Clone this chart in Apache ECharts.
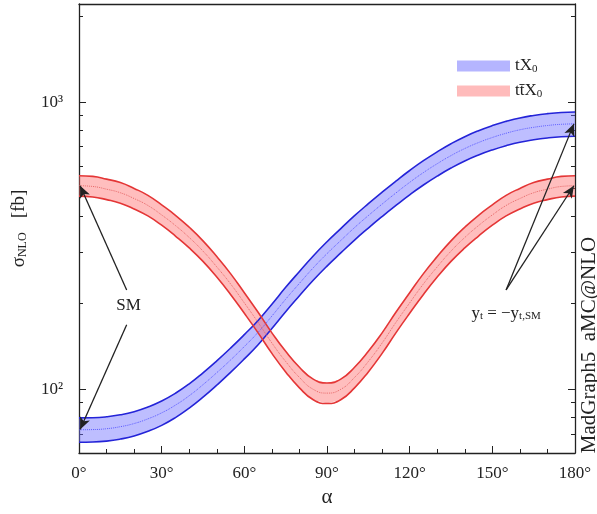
<!DOCTYPE html>
<html>
<head>
<meta charset="utf-8">
<script src="https://cdn.jsdelivr.net/npm/echarts@6/dist/echarts.min.js"></script>
<style>
  html, body { margin: 0; padding: 0; background: #fff; }
  #chart { width: 597px; height: 514px; }
</style>
</head>
<body>
<div id="chart"></div>
<script>
// mixing angle alpha (degrees)
const alpha = [0, 5, 10, 15, 20, 25, 30, 35, 40, 45, 50, 55, 60, 65, 70, 75, 80, 85, 90,
  95, 100, 105, 110, 115, 120, 125, 130, 135, 140, 145, 150, 155, 160, 165, 170, 175, 180]

// tX0 cross section [fb]: central value, upper and lower edge of the band
const tX0Mid = [72.3, 72.4, 72.9, 74.1, 76, 78.9, 82.8, 88.1, 95, 103.8, 114.3, 126.5, 141, 158, 180, 206, 234, 265, 297,
  330, 366, 403, 442, 483, 526, 569, 611, 652, 690, 724, 754, 780, 802, 818, 830, 838, 841]
const tX0Up = [79.5, 79.6, 80.2, 81.5, 83.6, 86.8, 91.1, 96.9, 104.5, 114.2, 125.7, 139.2, 155.1, 173.8, 198, 226.6, 257.4, 291.5, 326.7,
  363, 402.6, 443.3, 486.2, 531.3, 578.6, 625.9, 672.1, 717.2, 759, 796.4, 829.4, 858, 882.2, 899.8, 913, 921.8, 925.1]
const tX0Low = [65.4, 65.5, 66, 67.1, 68.8, 71.4, 74.9, 79.7, 86, 93.9, 103.4, 114.5, 127.6, 143, 162.9, 186.4, 211.8, 239.8, 268.8,
  298.7, 331.2, 364.7, 400, 437.1, 476, 515, 553, 590, 624.5, 655.2, 682.4, 705.9, 725.8, 740.3, 751.2, 758.4, 761.1]

// ttX0 cross section [fb]
const ttX0Mid = [512, 509, 498, 484, 462, 437, 405, 372, 338, 303, 267, 233, 200, 171, 145, 125, 110, 100, 97,
  100, 110, 125, 145, 171, 200, 233, 267, 303, 338, 372, 405, 437, 462, 484, 498, 509, 512]
const ttX0Up = [555, 552, 540, 525, 501, 474, 439, 404, 367, 329, 290, 253, 217, 185.5, 157.3, 135.6, 119.4, 108.5, 105.2,
  108.5, 119.4, 135.6, 157.3, 185.5, 217, 253, 290, 329, 367, 404, 439, 474, 501, 525, 540, 552, 555]
const ttX0Low = [471, 468, 458, 445, 425, 402, 373, 342, 311, 279, 246, 214, 184, 157.3, 133.4, 115, 101.2, 92, 89.2,
  92, 101.2, 115, 133.4, 157.3, 184, 214, 246, 279, 311, 342, 373, 402, 425, 445, 458, 468, 471]

// axis ticks
const yMajor = [100, 1000]
const yMinor = [60, 70, 80, 90, 200, 300, 400, 500, 600, 700, 800, 900, 2000]
const yLabels = { 100: '10²', 1000: '10³' }

const FONT = 'Liberation Serif'
const BLUE = '#2424d8'
const RED = '#e43636'

const chart = echarts.init(document.getElementById('chart'))

const pair = ys => alpha.map((x, i) => [x, ys[i]])

const yAxisDef = (position, ticks, len, withLabels, showLine) => ({
  type: 'log',
  min: 60,
  max: 2200,
  position,
  axisLine: { show: showLine, lineStyle: { color: '#222', width: 1.3 } },
  axisTick: { show: true, inside: true, length: len, customValues: ticks, lineStyle: { color: '#222', width: 1 } },
  axisLabel: withLabels ? {
    show: true,
    customValues: yMajor,
    margin: 16,
    fontFamily: FONT,
    fontSize: 17,
    color: '#222',
    formatter: v => yLabels[Math.round(v)] || ''
  } : { show: false },
  splitLine: { show: false },
  minorTick: { show: false }
})

// filled band between the upper and lower edge
const bandFill = (name, up, low, fill) => ({
  name,
  type: 'custom',
  coordinateSystem: 'cartesian2d',
  data: [[0, 100]],
  clip: true,
  silent: true,
  z: 2,
  renderItem: (params, api) => {
    const top = alpha.map((a, i) => api.coord([a, up[i]]))
    const bottom = alpha.map((a, i) => api.coord([a, low[i]])).reverse()
    return { type: 'polygon', shape: { points: top.concat(bottom) }, style: { fill } }
  }
})

const edge = (ys, color) => ({
  type: 'line',
  data: pair(ys),
  smooth: true,
  symbol: 'none',
  silent: true,
  lineStyle: { color, width: 1.6 },
  z: 3
})

const mid = (ys, color) => ({
  type: 'line',
  data: pair(ys),
  smooth: true,
  symbol: 'none',
  silent: true,
  lineStyle: { color, width: 1, type: 'dotted' },
  z: 4
})

const arrowLines = {
  silent: true,
  symbol: ['none', 'arrow'],
  symbolSize: [8, 12],
  lineStyle: { color: '#222', width: 1.3, type: 'solid' },
  label: { show: false },
  data: [
    [{ coord: [17.3, 222] }, { coord: [0.4, 512] }],
    [{ coord: [17.3, 168] }, { coord: [0.4, 72.5] }],
    [{ coord: [155, 222] }, { coord: [179.6, 841] }],
    [{ coord: [155, 222] }, { coord: [179.6, 512] }]
  ]
}

const subRich = {
  a: { fontFamily: FONT, fontSize: 17, color: '#222' },
  s: { fontFamily: FONT, fontSize: 11, color: '#222', verticalAlign: 'bottom', lineHeight: 11, padding: [8, 0, 0, 0] }
}

const notes = {
  silent: true,
  symbol: 'circle',
  symbolSize: 0,
  label: {
    show: true,
    position: 'inside',
    color: '#222',
    fontFamily: FONT,
    fontSize: 17,
    formatter: p => p.name,
    rich: subRich
  },
  data: [
    { name: 'SM', coord: [18, 196] },
    { name: '{a|y}{s|t}{a| = −y}{s|t,SM}', coord: [155, 184] }
  ]
}

const tMid = mid(tX0Mid, '#5c5cff')
tMid.markLine = arrowLines
tMid.markPoint = notes

chart.setOption({
  animation: false,
  backgroundColor: '#fff',
  grid: { left: 77, right: 22, top: 4, bottom: 61 },
  legend: {
    orient: 'vertical',
    left: 452,
    top: 51,
    itemWidth: 53,
    itemHeight: 11,
    itemGap: 6,
    icon: 'rect',
    selectedMode: false,
    data: [
      { name: 'tX0', itemStyle: { color: 'rgba(120,120,255,0.55)' } },
      { name: 'ttX0', itemStyle: { color: 'rgba(255,120,120,0.5)' } }
    ],
    formatter: n => n === 'tX0' ? '{a|tX}{s|0}' : '{a|tt̄X}{s|0}',
    textStyle: {
      rich: {
        a: { fontFamily: FONT, fontSize: 17, color: '#222', lineHeight: 18 },
        s: subRich.s
      }
    }
  },
  xAxis: [
    {
      type: 'value',
      min: 0,
      max: 180,
      interval: 30,
      name: 'α',
      nameLocation: 'middle',
      nameGap: 33,
      nameTextStyle: { fontFamily: FONT, fontSize: 21, color: '#222' },
      axisLine: { lineStyle: { color: '#222', width: 1.3 } },
      axisTick: { inside: true, length: 7, lineStyle: { color: '#222' } },
      minorTick: { show: true, splitNumber: 3, length: 4, lineStyle: { color: '#222' } },
      axisLabel: { margin: 12, fontFamily: FONT, fontSize: 17, color: '#222', formatter: v => v + '°' },
      splitLine: { show: false }
    },
    {
      type: 'value',
      min: 0,
      max: 180,
      position: 'top',
      axisLine: { lineStyle: { color: '#222', width: 1.3 } },
      axisTick: { show: false },
      axisLabel: { show: false },
      splitLine: { show: false }
    }
  ],
  yAxis: [
    Object.assign(yAxisDef('left', yMajor, 7, true, true), {
      name: '{a|σ}{s|NLO}{a|   [fb]}',
      nameLocation: 'middle',
      nameGap: 50,
      nameTextStyle: {
        rich: {
          a: { fontFamily: FONT, fontSize: 19, color: '#222' },
          s: { fontFamily: FONT, fontSize: 12, color: '#222', verticalAlign: 'bottom', lineHeight: 12, padding: [9, 0, 0, 0] }
        }
      }
    }),
    yAxisDef('left', yMinor, 4, false, false),
    yAxisDef('right', yMajor, 7, false, true),
    yAxisDef('right', yMinor, 4, false, false)
  ],
  graphic: [
    {
      type: 'text',
      x: 589,
      y: 345,
      rotation: Math.PI / 2,
      style: {
        text: 'MadGraph5_aMC@NLO',
        font: '21px "Liberation Serif"',
        fill: '#222',
        align: 'center',
        verticalAlign: 'middle'
      }
    }
  ],
  series: [
    bandFill('tX0', tX0Up, tX0Low, 'rgba(110,110,255,0.45)'),
    bandFill('ttX0', ttX0Up, ttX0Low, 'rgba(255,100,100,0.42)'),
    edge(tX0Up, BLUE),
    edge(tX0Low, BLUE),
    edge(ttX0Up, RED),
    edge(ttX0Low, RED),
    tMid,
    mid(ttX0Mid, '#e86a6a')
  ]
})
</script>
</body>
</html>
